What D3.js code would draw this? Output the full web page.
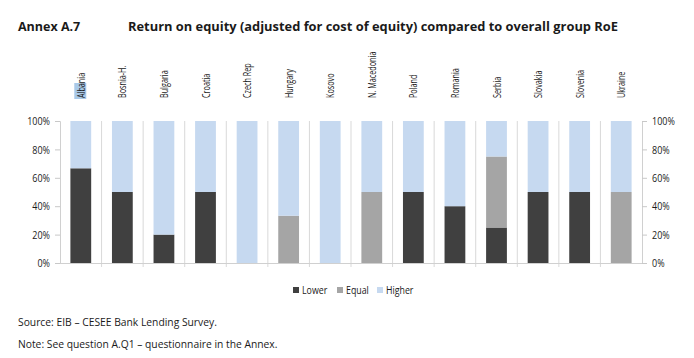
<!DOCTYPE html>
<html><head><meta charset="utf-8">
<script src="https://cdn.jsdelivr.net/npm/d3@7"></script>
<style>
html,body{margin:0;padding:0;background:#fff;}
svg{display:block;}
</style></head>
<body>
<svg id="c" width="694" height="358"></svg>
<script>
const categories = ["Albania","Bosnia-H.","Bulgaria","Croatia","Czech Rep","Hungary","Kosovo","N. Macedonia","Poland","Romania","Serbia","Slovakia","Slovenia","Ukraine"];
const lower  = [66.7, 50, 20, 50, 0, 0,    0, 0,  50, 40, 25, 50, 50, 0];
const equal  = [0,    0,  0,  0,  0, 33.3, 0, 50, 0,  0,  50, 0,  0,  50];
const higher = [33.3, 50, 80, 50, 100, 66.7, 100, 50, 50, 60, 25, 50, 50, 50];
const seriesNames = ["Lower","Equal","Higher"];
const colors = ["#404040","#a5a5a5","#c6d9f0"];
const yTicks = [0,20,40,60,80,100];

const FONT = "'Open Sans',sans-serif";
function condense(sel, f){
  sel.each(function(){
    const len = this.getComputedTextLength();
    d3.select(this).attr("textLength", len*f).attr("lengthAdjust","spacingAndGlyphs");
  });
}

const svg = d3.select("#c");
const L = 60, R = 642, T = 121, B = 263;
const x = d3.scaleBand().domain(categories).range([L,R]).paddingInner(0.5).paddingOuter(0.25);
const y = d3.scaleLinear().domain([0,100]).range([B,T]);

svg.append("text").attr("x",18).attr("y",31).attr("font-family",FONT).attr("font-weight","bold").attr("font-size",12.5).attr("fill","#1a1a1a").text("Annex A.7");
svg.append("text").attr("x",128).attr("y",31).attr("font-family",FONT).attr("font-weight","bold").attr("font-size",12.5).attr("fill","#1a1a1a")
  .attr("textLength",490).attr("lengthAdjust","spacingAndGlyphs")
  .text("Return on equity (adjusted for cost of equity) compared to overall group RoE");

const step = x.step();
const seps = d3.range(1, categories.length).map(i => L + i*step);
svg.append("g").selectAll("line").data(seps).join("line")
  .attr("x1",d=>d).attr("x2",d=>d).attr("y1",T).attr("y2",B+4)
  .attr("stroke","#d9d9d9").attr("stroke-width",1);

const rows = categories.map((c,i)=>({cat:c, Lower:lower[i], Equal:equal[i], Higher:higher[i]}));
const stack = d3.stack().keys(seriesNames)(rows);
svg.append("g").selectAll("g").data(stack).join("g").attr("fill",(d,i)=>colors[i])
  .selectAll("rect").data(d=>d).join("rect")
  .attr("x",d=>x(d.data.cat)).attr("width",x.bandwidth())
  .attr("y",d=>y(d[1])).attr("height",d=>y(d[0])-y(d[1]));

svg.append("line").attr("x1",L).attr("x2",R).attr("y1",B+0.5).attr("y2",B+0.5).attr("stroke","#d0d0d0");

const yl = d3.axisLeft(y).tickValues(yTicks).tickFormat(d=>d+"%").tickSize(5).tickPadding(5);
const yr = d3.axisRight(y).tickValues(yTicks).tickFormat(d=>d+"%").tickSize(5).tickPadding(5);
const gl = svg.append("g").attr("transform",`translate(${L},0)`).call(yl);
const gr = svg.append("g").attr("transform",`translate(${R},0)`).call(yr);
[gl,gr].forEach(g=>{
  g.attr("font-family",FONT).attr("font-size",11.5);
  g.select(".domain").attr("stroke","#d0d0d0");
  g.selectAll(".tick line").attr("stroke","#c8c8c8");
  g.selectAll("text").attr("fill","#1a1a1a");
  condense(g.selectAll("text"), 0.78);
});

const lab = svg.append("g").attr("font-family",FONT).attr("font-size",11.5);
categories.forEach((c,i)=>{
  const cx = x(c) + x.bandwidth()/2 + 4;
  if (i===0) {
    lab.append("rect").attr("x",cx-10.5).attr("y",83).attr("width",12).attr("height",16).attr("fill","#a9c9e8");
  }
  lab.append("text").attr("fill","#1a1a1a")
    .attr("transform",`translate(${cx},98) rotate(-90)`).attr("text-anchor","start").text(c);
});
condense(lab.selectAll("text"), 0.63);

const lg = svg.append("g").attr("font-family",FONT).attr("font-size",11);
const lx = [293, 337, 377];
seriesNames.forEach((s,i)=>{
  lg.append("rect").attr("x",lx[i]).attr("y",287).attr("width",6).attr("height",6).attr("fill",colors[i]);
  lg.append("text").attr("x",lx[i]+9).attr("y",294).attr("fill","#1a1a1a").text(s);
});
condense(lg.selectAll("text"), 0.8);

svg.append("text").attr("x",18).attr("y",326).attr("font-family",FONT).attr("font-size",10.3).attr("fill","#1a1a1a")
  .text("Source: EIB – CESEE Bank Lending Survey.");
svg.append("text").attr("x",18).attr("y",348).attr("font-family",FONT).attr("font-size",10.3).attr("fill","#1a1a1a")
  .text("Note: See question A.Q1 – questionnaire in the Annex.");
</script>
</body></html>
